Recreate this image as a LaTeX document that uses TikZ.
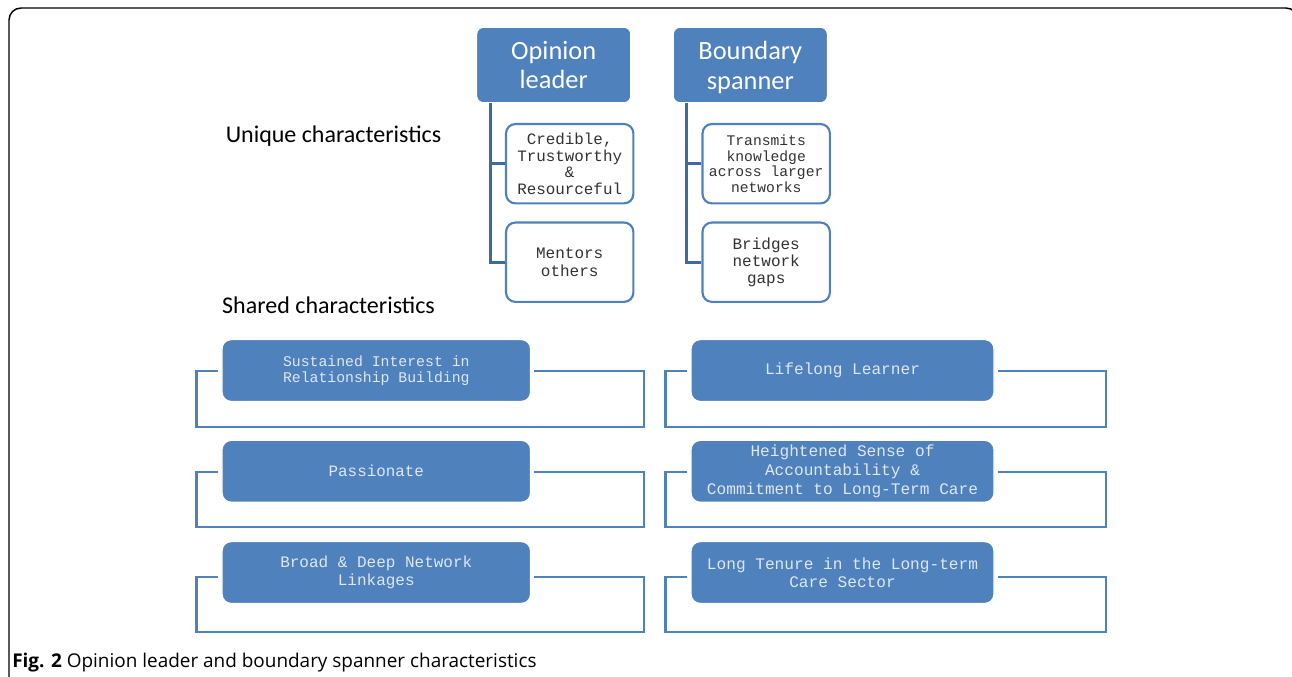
\documentclass[tikz,border=0pt]{standalone}
\usepackage{fontspec}
\setmainfont{Carlito}
\newfontfamily\cour{Liberation Mono}
\newfontfamily\capfont{Open Sans}
\definecolor{accent}{RGB}{79,129,189}
\definecolor{treeline}{RGB}{62,106,160}
\definecolor{sharedtext}{RGB}{222,231,243}
\definecolor{childtext}{RGB}{50,50,50}
\tikzset{
  px/.style={x=0.75pt,y=-0.75pt},
  topbox/.style={fill=accent, draw=white, line width=0.8pt, rounded corners=5pt, text=white,
    align=center, font=\fontsize{19.8}{22}\selectfont, inner sep=0pt,
    minimum width=115.5pt, minimum height=56.5pt},
  childbox/.style={fill=white, draw=accent, line width=1.6pt, rounded corners=7pt, text=childtext,
    align=center, inner sep=0pt, minimum width=95.5pt, minimum height=59.5pt},
  sharedbox/.style={fill=accent, draw=white, line width=1pt, rounded corners=7pt, text=sharedtext,
    align=center, inner sep=0pt, minimum height=46.5pt},
  tree/.style={draw=treeline, line width=2.2pt},
  bracket/.style={draw=accent, line width=1.7pt},
  heading/.style={font=\fontsize{18}{21}\selectfont, text=black, inner sep=0pt},
}
\begin{document}
\begin{tikzpicture}[px]
\useasboundingbox (0,0) rectangle (1292,676);
\begin{scope}
\clip (0,0) rectangle (1292,676);
\draw[black, line width=1.1pt, rounded corners=9pt] (9,8) rectangle (1298,720);
\end{scope}

% top hierarchy
\node[topbox, minimum height=56.5pt] (OL) at (553.7,65) {};
\node[topbox] (BS) at (750.3,65) {};
\node[text=white, align=center, font=\fontsize{19.8}{22}\selectfont, inner sep=0pt] (OLt) at (553.7,67) {Opinion\\leader\vphantom{p}};
\node[text=white, align=center, font=\fontsize{19.8}{22}\selectfont, inner sep=0pt] (BSt) at (750.3,67.5) {Boundary\\spanner};

\node[childbox, font=\cour\fontsize{11.9}{12.5}\selectfont] (C1) at (569.7,163.7) {Credible,\\Trustworthy\\\&\\Resourceful};
\node[childbox, font=\cour\fontsize{12}{13.3}\selectfont] (C2) at (569.7,262.2) {Mentors\\others};
\node[childbox, font=\cour\fontsize{11}{11.7}\selectfont] (B1) at (766.2,163.7) {Transmits\\knowledge\\across larger\\networks};
\node[childbox, font=\cour\fontsize{12}{12.8}\selectfont] (B2) at (766.2,262.2) {Bridges\\network\\gaps};

\coordinate (OLs) at ([xshift=10.5pt]OL.south west);
\coordinate (BSs) at ([xshift=10.5pt]BS.south west);
\draw[tree] (OLs) |- (C1.west);
\draw[tree] (OLs) |- (C2.west);
\draw[tree] (BSs) |- (B1.west);
\draw[tree] (BSs) |- (B2.west);

\node[heading] (UC) at (333.5,136) {Unique characteristics};
\node[heading] (SC) at (328.5,305) {Shared characteristics};

% shared characteristics
\node[sharedbox, minimum width=231.5pt, font=\cour\fontsize{11.1}{12.5}\selectfont] (L1) at (376.3,370.5) {Sustained Interest in\\Relationship Building};
\node[sharedbox, minimum width=231.5pt, font=\cour\fontsize{11.9}{13.5}\selectfont] (L2) at (376.3,471.3) {Passionate};
\node[sharedbox, minimum width=231.5pt, font=\cour\fontsize{12}{13.8}\selectfont] (L3) at (376.3,572.5) {Broad \& Deep Network\\Linkages};
\node[sharedbox, minimum width=227.3pt, font=\cour\fontsize{12.1}{13.8}\selectfont] (R1) at (842.5,370.5) {Lifelong Learner};
\node[sharedbox, minimum width=227.3pt, font=\cour\fontsize{12.1}{14.3}\selectfont] (R2) at (842.5,471.3) {Heightened Sense of\\Accountability \&\\Commitment to Long-Term Care};
\node[sharedbox, minimum width=227.3pt, font=\cour\fontsize{12.1}{13.8}\selectfont] (R3) at (842.5,572.5) {Long Tenure in the Long-term\\Care Sector};

\foreach \n/\r/\dy/\h in {L1/113/0.3/56,L2/113/0.4/55.6,L3/113/4.5/54.7,R1/111/0.3/56,R2/111/0.4/55.6,R3/111/4.5/54.7}{
  \draw[bracket] ([xshift=-2.2pt,yshift=-\dy*0.75pt]\n.west) -- ++(-22,0) -- ++(0,\h) -| ([xshift=\r*0.75pt,yshift=-\dy*0.75pt]\n.east) -- ([xshift=2.2pt,yshift=-\dy*0.75pt]\n.east);
}

\node[anchor=base west, inner sep=0pt, font=\capfont\fontsize{14.2}{16}\selectfont] (cap) at (12,667) {\textbf{Fig. 2} Opinion leader and boundary spanner characteristics};
\end{tikzpicture}
\end{document}
